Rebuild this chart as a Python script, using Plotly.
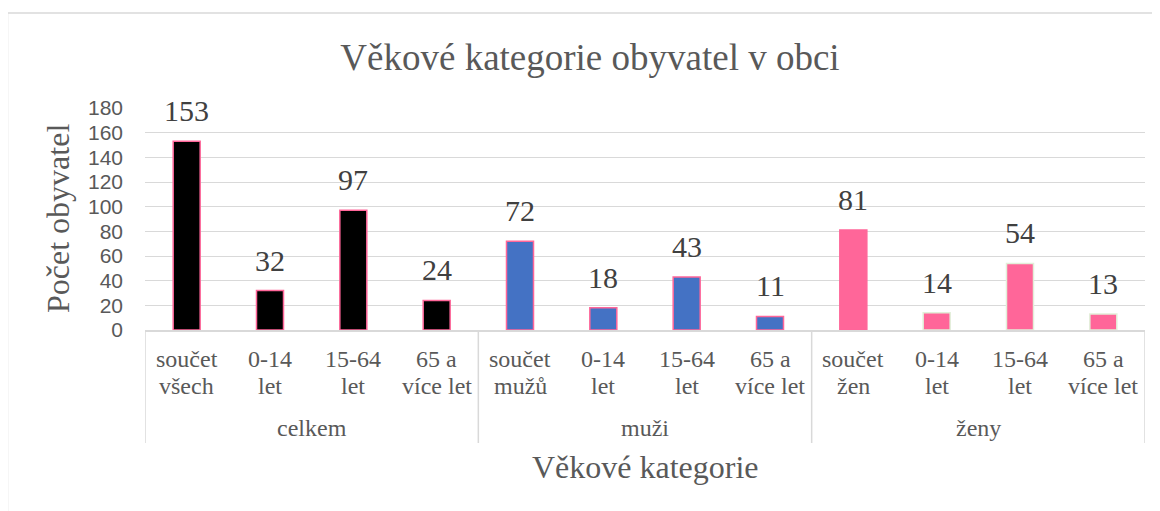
import plotly.graph_objects as go

groups = ["celkem"] * 4 + ["muži"] * 4 + ["ženy"] * 4
group_names = ["celkem", "muži", "ženy"]
labels_top = ["součet", "0-14", "15-64", "65 a",
              "součet", "0-14", "15-64", "65 a",
              "součet", "0-14", "15-64", "65 a"]
labels_bottom = ["všech", "let", "let", "více let",
                 "mužů", "let", "let", "více let",
                 "žen", "let", "let", "více let"]
values = [153, 32, 97, 24, 72, 18, 43, 11, 81, 14, 54, 13]
y_ticks = [0, 20, 40, 60, 80, 100, 120, 140, 160, 180]

keys = [f"{g} {t} {b}" for g, t, b in zip(groups, labels_top, labels_bottom)]

fill = ["#000000"] * 4 + ["#4472C4"] * 4 + ["#FF6699"] * 4
outline = ["#FF6699"] * 9 + ["#E2EFD9"] * 3

serif = "Liberation Serif"
grey = "#595959"

fig = go.Figure(go.Bar(
    x=keys, y=values,
    marker=dict(color=fill, line=dict(color=outline, width=1.5)),
    cliponaxis=False, hoverinfo="x+y",
))

ann = []
# data labels
for k, v in zip(keys, values):
    ann.append(dict(x=k, y=v, xref="x", yref="y", text=str(v), showarrow=False,
                    yanchor="bottom", yshift=12,
                    font=dict(family=serif, size=30, color="#404040")))
# category labels (two rows)
for k, t, b in zip(keys, labels_top, labels_bottom):
    ann.append(dict(x=k, y=0, xref="x", yref="paper", text=t, showarrow=False,
                    yanchor="middle", yshift=-29,
                    font=dict(family=serif, size=24, color=grey)))
    ann.append(dict(x=k, y=0, xref="x", yref="paper", text=b, showarrow=False,
                    yanchor="middle", yshift=-56,
                    font=dict(family=serif, size=24, color=grey)))
# group labels
for gname in group_names:
    idx = [i for i, g in enumerate(groups) if g == gname]
    ann.append(dict(x=sum(idx) / len(idx), y=0, xref="x", yref="paper", text=gname,
                    showarrow=False, yanchor="middle", yshift=-98,
                    font=dict(family=serif, size=24, color=grey)))
# axis titles
ann.append(dict(x=0.5, y=0, xref="paper", yref="paper", text="Věkové kategorie",
                showarrow=False, yanchor="middle", yshift=-137,
                font=dict(family=serif, size=32, color=grey)))
ann.append(dict(x=0, y=0.5, xref="paper", yref="paper", text="Počet obyvatel",
                showarrow=False, textangle=-90, xanchor="center", yanchor="middle",
                xshift=-87, font=dict(family=serif, size=32, color=grey)))

shapes = [dict(type="rect", xref="paper", yref="paper",
               x0=-0.1375, x1=1.2, y0=-1.2, y1=1.428,
               line=dict(color="#d9d9d9", width=1.5), fillcolor="rgba(0,0,0,0)")]
# group dividers
bounds = [-0.5]
for i in range(1, len(groups)):
    if groups[i] != groups[i - 1]:
        bounds.append(i - 0.5)
bounds.append(len(groups) - 0.5)
for bx in bounds:
    shapes.append(dict(type="line", xref="x", yref="paper", x0=bx, x1=bx,
                       y0=0, y1=-0.509, line=dict(color="#d9d9d9", width=1.5)))

fig.update_layout(
    width=1160, height=511,
    margin=dict(l=137, r=23, t=100, b=189, autoexpand=False),
    paper_bgcolor="white", plot_bgcolor="white",
    bargap=0.676,
    showlegend=False,
    title=dict(text="Věkové kategorie obyvatel v obci", x=582 / 1160, xanchor="center",
               xref="container", y=1 - 49 / 511, yref="container", yanchor="middle",
               font=dict(family=serif, size=37, color=grey)),
    annotations=ann,
    shapes=shapes,
)

fig.update_yaxes(
    range=[0, 180], tickvals=y_ticks, ticks="", ticklabelstandoff=21,
    showgrid=True, gridcolor="#d9d9d9", gridwidth=1.2,
    zeroline=False, showline=False, automargin=False,
    tickfont=dict(family="Liberation Sans", size=21, color=grey),
)
fig.update_xaxes(
    type="category", range=[-0.5, len(keys) - 0.5],
    showticklabels=False, ticks="", automargin=False,
    showline=True, linecolor="#d9d9d9", linewidth=1.5,
)

fig.write_html("out.html")
